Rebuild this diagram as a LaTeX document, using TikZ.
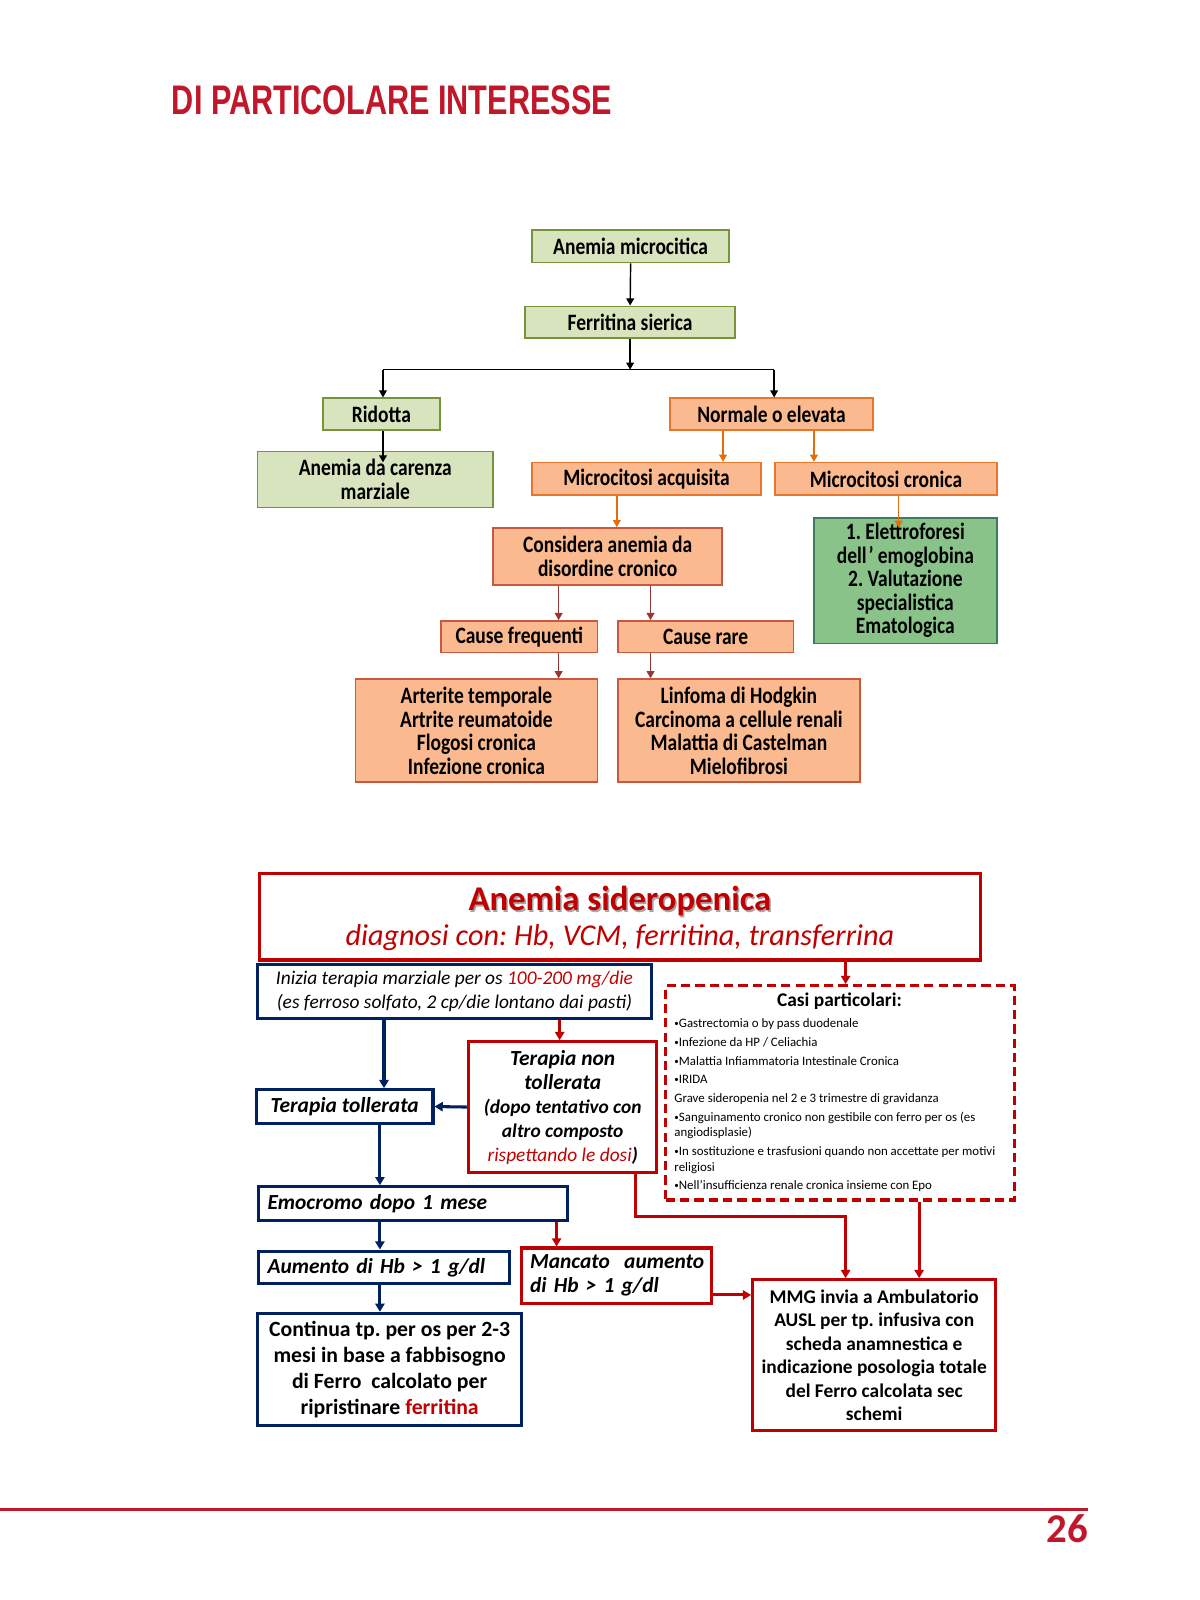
\documentclass[tikz,border=0pt]{standalone}
\usepackage{fontspec}
\setmainfont{Carlito}
\newfontfamily\titlefont[FakeStretch=0.74]{Liberation Sans}
\newfontfamily\topfont[FakeStretch=0.83]{Carlito}
\usetikzlibrary{arrows.meta}
\definecolor{titlered}{HTML}{C0182A}
\definecolor{gfill}{HTML}{D7E4BD}
\definecolor{gline}{HTML}{77933C}
\definecolor{ofill}{HTML}{FAB98F}
\definecolor{oline}{HTML}{E8772E}
\definecolor{oline2}{HTML}{C8583E}
\definecolor{oarrow}{HTML}{E46C0A}
\definecolor{rarrow}{HTML}{953735}
\definecolor{dgfill}{HTML}{8AC389}
\definecolor{dgline}{HTML}{3B7D5B}
\definecolor{navy}{HTML}{002060}
\definecolor{dred}{HTML}{C00000}
\newcommand\cbul{\raisebox{0.5pt}{\scalebox{0.7}{•}}}
\begin{document}
\frenchspacing
\begin{tikzpicture}[x=0.5pt,y=-0.5pt,
  box/.style={draw, rectangle, inner sep=0pt, align=center},
  tfont/.style={font=\topfont\bfseries\fontsize{11.5}{11.5}\selectfont},
  gbox/.style={box, tfont, fill=gfill, draw=gline, line width=0.8pt},
  obox/.style={box, tfont, fill=ofill, draw=oline, line width=0.8pt},
  obox2/.style={box, tfont, fill=ofill, draw=oline2, line width=0.8pt},
  dgbox/.style={box, tfont, fill=dgfill, draw=dgline, line width=0.8pt},
  nbox/.style={box, draw=navy, line width=1.5pt},
  rbox/.style={box, draw=dred, line width=1.5pt},
  dashbox/.style={box, draw=dred, line width=1.5pt, dash pattern=on 4.5pt off 2.5pt},
  tarr/.style={-{Triangle[length=3.5pt,width=3.8pt]}, line width=0.7pt, color=black},
  tline/.style={line width=0.7pt, color=black},
  oarr/.style={-{Triangle[length=3.5pt,width=3.8pt]}, line width=0.7pt, color=oarrow},
  rarr/.style={-{Triangle[length=3.5pt,width=3.8pt]}, line width=0.7pt, color=rarrow},
  narr/.style={-{Triangle[length=4pt,width=4.5pt]}, line width=1.5pt, color=navy},
  redarr/.style={-{Triangle[length=4pt,width=4.5pt]}, line width=1.5pt, color=dred},
  citem/.style={anchor=base west, inner sep=0pt, font=\fontsize{6.3}{7}\selectfont}
]
\useasboundingbox (0,0) rectangle (1175,1566.7);

% title
\node[anchor=base west, inner sep=0pt, text=titlered, font=\titlefont\bfseries\fontsize{20.25}{22}\selectfont] (TITLE) at (168,112) {DI PARTICOLARE INTERESSE};

% top flowchart
\node[gbox, minimum width=96.5pt, minimum height=16pt] (AM) at (617.5,241) {Anemia microcitica};
\node[gbox, minimum width=103pt, minimum height=15.5pt] (FS) at (617,315.5) {Ferritina sierica};
\node[gbox, minimum width=57.5pt, minimum height=15.5pt] (RID) at (373.5,405.5) {Ridotta};
\node[gbox, minimum width=115.5pt, minimum height=27.5pt] (ADC) at (367.5,469.5) {Anemia da carenza\\marziale};
\node[obox, minimum width=99.5pt, minimum height=15.5pt] (NOE) at (755.5,405.5) {Normale o elevata};
\node[obox, minimum width=112pt, minimum height=16pt] (MA) at (633,469) {Microcitosi acquisita};
\node[obox, minimum width=108.5pt, minimum height=16pt] (MC) at (867.5,469) {Microcitosi cronica};
\node[obox2, minimum width=112pt, minimum height=28pt] (CAD) at (595,545) {Considera anemia da\\disordine cronico};
\node[dgbox, minimum width=89.5pt, minimum height=61.5pt] (ELE) at (886.5,568.5) {1. Elettroforesi\\dell\kern1pt’\kern2pt emoglobina\\2. Valutazione\\specialistica\\Ematologica};
\node[obox2, minimum width=76.5pt, minimum height=15.5pt] (CF) at (508.5,623.5) {Cause frequenti};
\node[obox2, minimum width=86pt, minimum height=15.5pt] (CR) at (691,623.5) {Cause rare};
\node[obox2, minimum width=118.5pt, minimum height=50.5pt] (LF) at (466.5,715.5) {Arterite temporale\\Artrite reumatoide\\Flogosi cronica\\Infezione cronica};
\node[obox2, minimum width=118.5pt, minimum height=50.5pt] (LR) at (723.5,715.5) {Linfoma di Hodgkin\\Carcinoma a cellule renali\\Malattia di Castelman\\Mielofibrosi};

\draw[tarr] (AM.south) -- (FS.north);
\coordinate (J) at (617,362);
\coordinate (JL) at (375,362);
\coordinate (JR) at (758,362);
\draw[tarr] (FS.south) -- (J);
\draw[tline] (JL) -- (JR);
\draw[tarr] (JL) -- (JL |- RID.north);
\draw[tarr] (JR) -- (JR |- NOE.north);
\draw[tarr] ([xshift=0.75pt]RID.south) -- ++(0,31);
\draw[oarr] ([xshift=-23.75pt]NOE.south) -- ([xshift=-23.75pt]NOE.south |- MA.north);
\draw[oarr] ([xshift=20.75pt]NOE.south) -- ([xshift=20.75pt]NOE.south |- MC.north);
\draw[oarr] ([xshift=-14.5pt]MA.south) -- ([xshift=-14.5pt]MA.south |- CAD.north);
\draw[oarr] ([xshift=6.25pt]MC.south) -- ++(0,31);
\draw[rarr] ([xshift=-24pt]CAD.south) -- ([xshift=-24pt]CAD.south |- CF.north);
\draw[rarr] ([xshift=21pt]CAD.south) -- ([xshift=21pt]CAD.south |- CR.north);
\draw[rarr] ([xshift=19.25pt]CF.south) -- ([xshift=19.25pt]CF.south |- LF.north);
\draw[rarr] ([xshift=-27pt]CR.south) -- ([xshift=-27pt]CR.south |- LR.north);

% bottom flowchart
\node[rbox, minimum width=353pt, minimum height=42.5pt] (BIG) at (607,897.5) {};
\node[anchor=base, inner sep=0pt, text=black!35, font=\bfseries\fontsize{17}{17}\selectfont] (BIGTs) at (608.5,893.5) {Anemia sideropenica};
\node[anchor=base, inner sep=0pt, text=dred, font=\bfseries\fontsize{17}{17}\selectfont] (BIGT) at (607,892) {Anemia sideropenica};
\node[anchor=base, inner sep=0pt, text=dred, font=\itshape\fontsize{14.8}{15}\selectfont] (BIGS) at (607,926) {diagnosi con: Hb, VCM, ferritina, transferrina};

\node[nbox, minimum width=193pt, minimum height=26.5pt, font=\itshape\fontsize{9.5}{11.5}\selectfont] (B1) at (445,970.5) {Inizia terapia marziale per os \textcolor{dred}{100-200 mg/die}\\(es ferroso solfato, 2 cp/die lontano dai pasti)};

\node[dashbox, minimum width=170.5pt, minimum height=105pt] (DASH) at (822.5,1070) {};
\node[anchor=base, inner sep=0pt, font=\bfseries\fontsize{9.5}{10}\selectfont] (CPT) at (822,986) {Casi particolari:};
\node[citem] (c1) at (660,1006) {\cbul Gastrectomia o by pass duodenale};
\node[citem] (c2) at (660,1025) {\cbul Infezione da HP / Celiachia};
\node[citem] (c3) at (660,1043) {\cbul Malattia Infiammatoria Intestinale Cronica};
\node[citem] (c4) at (660,1061) {\cbul IRIDA};
\node[citem] (c5) at (660,1080) {Grave sideropenia nel 2 e 3 trimestre di gravidanza};
\node[citem] (c6) at (660,1098) {\cbul Sanguinamento cronico non gestibile con ferro per os (es};
\node[citem] (c7) at (660,1113) {angiodisplasie)};
\node[citem] (c8) at (660,1131) {\cbul In sostituzione e trasfusioni quando non accettate per motivi};
\node[citem] (c9) at (660,1147) {religiosi};
\node[citem] (c10) at (660,1165) {\cbul Nell’insufficienza renale cronica insieme con Epo};

\node[rbox, minimum width=92pt, minimum height=64pt, font=\bfseries\itshape\fontsize{9.5}{11.75}\selectfont] (TNT) at (551,1084) {{\fontsize{10.5}{11.75}\selectfont Terapia non}\\{\fontsize{10.5}{11.75}\selectfont tollerata}\\(dopo tentativo con\\altro composto\\\textcolor{dred}{\mdseries rispettando le dosi})};

\node[nbox, minimum width=86.5pt, minimum height=16.5pt, font=\bfseries\itshape\fontsize{10.5}{12}\selectfont] (TT) at (337.5,1083.5) {Terapia tollerata};
\node[nbox, inner xsep=4.5pt, text width=142.5pt, minimum height=16.5pt, align=left, font=\bfseries\itshape\fontsize{10.5}{12}\selectfont] (EMO) at (404.5,1178.5) {Emocromo dopo 1 mese};
\node[nbox, inner xsep=4.5pt, text width=114pt, minimum height=16pt, align=left, font=\bfseries\itshape\fontsize{10.5}{12}\selectfont] (AUM) at (376,1241) {Aumento di Hb > 1 g/dl};
\node[rbox, inner xsep=4pt, text width=85pt, minimum height=27pt, align=left, font=\bfseries\itshape\fontsize{10.5}{11.5}\selectfont] (MAN) at (604,1249) {\makebox[85pt][s]{Mancato\ \ aumento}\\di Hb > 1 g/dl};
\node[nbox, minimum width=129.5pt, minimum height=55pt, font=\bfseries\fontsize{10.65}{12.65}\selectfont] (CONT) at (381.5,1341) {Continua tp. per os per 2-3\\mesi in base a fabbisogno\\di Ferro\ \ calcolato per\\ripristinare \textcolor{dred}{ferritina}};
\node[rbox, minimum width=119pt, minimum height=74pt, font=\bfseries\fontsize{9.5}{11.5}\selectfont] (MMG) at (856,1327) {MMG invia a Ambulatorio\\AUSL per tp. infusiva con\\scheda anamnestica e\\indicazione posologia totale\\del Ferro calcolata sec\\schemi};

\draw[narr] ([xshift=-34.5pt]B1.south) -- ([xshift=-34.5pt]B1.south |- TT.north);
\draw[narr] (TNT.west) -- (TT.east);
\draw[narr] ([xshift=17.25pt]TT.south) -- ([xshift=17.25pt]TT.south |- EMO.north);
\draw[narr] ([xshift=-16.25pt]EMO.south) -- ([xshift=-16.25pt]EMO.south |- AUM.north);
\draw[narr] ([xshift=-2pt]AUM.south) -- ([xshift=-2pt]AUM.south |- CONT.north);
\draw[redarr] ([xshift=51.5pt]B1.south) -- ([xshift=51.5pt]B1.south |- TNT.north);
\draw[redarr] ([xshift=110.5pt]BIG.south) -- ([xshift=110.5pt]BIG.south |- DASH.north);
\draw[redarr] ([xshift=70.25pt]EMO.south) -- ([xshift=70.25pt]EMO.south |- MAN.north);
\draw[redarr] ([xshift=35.5pt]TNT.south) -- ++(0,42) -| ([xshift=-14pt]MMG.north);
\draw[redarr] ([xshift=38.75pt]DASH.south) -- ([xshift=38.75pt]DASH.south |- MMG.north);
\draw[redarr] ([yshift=-9.5pt]MAN.east) -- ([yshift=-9.5pt]MAN.east -| MMG.west);

% footer
\coordinate (FL) at (0,1478);
\coordinate (FR) at (1065,1478);
\draw[titlered, line width=1.5pt] (FL) -- (FR);
\node[anchor=base east, inner sep=0pt, text=titlered, font=\bfseries\fontsize{20}{20}\selectfont] (PG) at (1066,1510) {26};
\end{tikzpicture}
\end{document}
